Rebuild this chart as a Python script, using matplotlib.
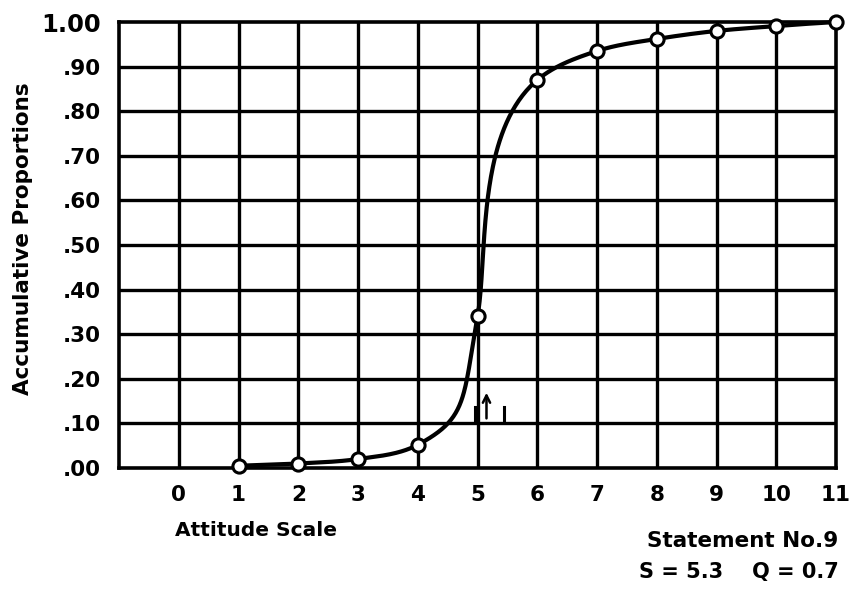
import numpy as np
import matplotlib
matplotlib.use("Agg")
import matplotlib.pyplot as plt

# Data
scale_points = [1, 2, 3, 4, 5, 6, 7, 8, 9, 10, 11]
cum_props = [0.005, 0.010, 0.020, 0.052, 0.340, 0.870, 0.935, 0.962, 0.980, 0.991, 1.000]
x_ticks = list(range(0, 12))
y_ticks = [0.0, 0.1, 0.2, 0.3, 0.4, 0.5, 0.6, 0.7, 0.8, 0.9, 1.0]
y_tick_labels = [".00", ".10", ".20", ".30", ".40", ".50", ".60", ".70", ".80", ".90", "1.00"]
arrow_x = 5.15
interval_marks = [4.95, 5.45]

# drawing style of the hand-drawn curve: tangent angle (deg, screen space) at each point,
# and tangent length factors (out of point / into point) relative to segment chord
tangent_deg = [2, 3, 8, 28, 80, 40, 18, 9, 6, 4.5, 3.5]
k_out = [1, 1, 1, 1.2, 0.75, 1, 1, 1, 1, 1, 1]
k_in = [1, 1, 1, 1, 1.8, 1, 1, 1, 1, 1, 1]

FONT = ["DejaVu Sans"]

fig = plt.figure(figsize=(8.58, 5.90), dpi=100)
ax = fig.add_axes([0.1387, 0.2068, 0.9744 - 0.1387, 0.9627 - 0.2068])
ax.set_xlim(-1, 11)
ax.set_ylim(0, 1)

# grid
for xv in x_ticks[:-1]:
    ax.axvline(xv, color="black", lw=2.4, zorder=1)
for yv in y_ticks[1:-1]:
    ax.axhline(yv, color="black", lw=2.4, zorder=1)
for s in ax.spines.values():
    s.set_linewidth(2.6)
    s.set_color("black")

# smooth curve: cubic Hermite segments in screen-like space
sx, sy = 60.0, 445.0
P = np.column_stack([np.array(scale_points, float) * sx, np.array(cum_props) * sy])
ang = np.radians(tangent_deg)
U = np.column_stack([np.cos(ang), np.sin(ang)])
t = np.linspace(0, 1, 80)[:, None]
h00 = 2 * t**3 - 3 * t**2 + 1
h10 = t**3 - 2 * t**2 + t
h01 = -2 * t**3 + 3 * t**2
h11 = t**3 - t**2
pts = []
for i in range(len(P) - 1):
    chord = np.linalg.norm(P[i + 1] - P[i])
    m0 = U[i] * chord * k_out[i]
    m1 = U[i + 1] * chord * k_in[i + 1]
    pts.append(h00 * P[i] + h10 * m0 + h01 * P[i + 1] + h11 * m1)
curve = np.vstack(pts)
ax.plot(curve[:, 0] / sx, curve[:, 1] / sy, color="black", lw=3, zorder=3,
        clip_on=False, solid_capstyle="round")
ax.plot(scale_points, cum_props, "o", ms=9.5, mfc="white", mec="black", mew=2.2,
        zorder=4, clip_on=False)

# arrow and interval marks
ax.annotate("", xy=(arrow_x, 0.175), xytext=(arrow_x, 0.105),
            arrowprops=dict(arrowstyle="->", lw=1.8, color="black", mutation_scale=13), zorder=5)
for xm in interval_marks:
    ax.plot([xm, xm], [0.103, 0.137], color="black", lw=2.2, zorder=5)

ax.set_xticks(x_ticks)
ax.set_xticklabels([str(v) for v in x_ticks], fontsize=15.5, fontweight="bold", family=FONT)
ax.set_yticks(y_ticks)
ax.set_yticklabels(y_tick_labels, fontsize=15.5, fontweight="bold", family=FONT)
ax.tick_params(axis="y", length=0, pad=13)
ax.tick_params(axis="x", length=0, pad=12)
ax.get_yticklabels()[-1].set_fontsize(17.5)

fig.text(0.027, 0.596, "Accumulative Proportions", rotation=90, ha="center", va="center",
         fontsize=15.5, fontweight="bold", family=FONT)
fig.text(0.204, 0.100, "Attitude Scale", ha="left", va="center",
         fontsize=14.5, fontweight="bold", family=FONT)
fig.text(0.977, 0.083, "Statement No.9", ha="right", va="center",
         fontsize=15.5, fontweight="bold", family=FONT)
fig.text(0.977, 0.030, "S = 5.3    Q = 0.7", ha="right", va="center",
         fontsize=15, fontweight="bold", family=FONT)

fig.savefig("out.png", dpi=100)
